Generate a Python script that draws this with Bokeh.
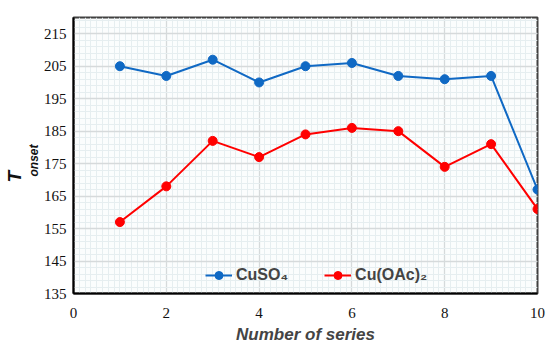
import numpy as np
from bokeh.plotting import figure
from bokeh.models import FixedTicker, Range1d, Title, Legend, LegendItem
from bokeh.embed import file_html
from bokeh.resources import INLINE

series = [1, 2, 3, 4, 5, 6, 7, 8, 9, 10]
cuso4 = [205, 202, 207, 200, 205, 206, 202, 201, 202, 167]
cuoac2 = [157, 168, 182, 177, 184, 186, 185, 174, 181, 161]
x_ticks = [0, 2, 4, 6, 8, 10]
y_ticks = [135, 145, 155, 165, 175, 185, 195, 205, 215]

p = figure(frame_width=464, frame_height=276, width=550, height=350,
           min_border_left=73, min_border_right=13, min_border_top=17, min_border_bottom=57,
           x_range=Range1d(0, 10), y_range=Range1d(135, 220),
           output_backend="svg", toolbar_location=None, background_fill_color="#fbfdfd")
p.outline_line_color = "#404040"
p.outline_line_width = 2

xt = FixedTicker(ticks=x_ticks, minor_ticks=list(np.arange(0, 10.01, 0.125)))
yt = FixedTicker(ticks=y_ticks, minor_ticks=list(np.arange(135, 220.01, 2)))
p.xaxis.ticker = xt
p.yaxis.ticker = yt
for ax in (p.xaxis[0], p.yaxis[0]):
    ax.axis_line_color = "black"
    ax.axis_line_width = 2
    ax.major_tick_line_color = None
    ax.minor_tick_line_color = None
    ax.major_tick_out = 0
    ax.minor_tick_out = 0
    ax.major_label_text_font = "serif"
    ax.major_label_text_font_size = "15px"
    ax.major_label_text_color = "#111111"
p.xaxis.major_label_standoff = 14
p.yaxis.major_label_standoff = 7
p.xaxis.axis_label = "Number of series"
p.xaxis.axis_label_text_font = "Liberation Sans"
p.xaxis.axis_label_text_font_style = "bold italic"
p.xaxis.axis_label_text_font_size = "17px"
p.xaxis.axis_label_standoff = 4

for g in (p.xgrid[0], p.ygrid[0]):
    g.grid_line_color = "#d6dadb"
    g.grid_line_width = 1.3
    g.minor_grid_line_color = "#e6eef0"
    g.minor_grid_line_width = 1

blue = "#1069c4"
red = "#ff0000"
l1 = p.line(series, cuso4, line_color=blue, line_width=2)
c1 = p.scatter(series, cuso4, size=9, fill_color=blue, line_color=blue)
l2 = p.line(series, cuoac2, line_color=red, line_width=2)
c2 = p.scatter(series, cuoac2, size=9, fill_color=red, line_color=red)

legend = Legend(items=[LegendItem(label="CuSO\u2084", renderers=[l1, c1]),
                       LegendItem(label="Cu(OAc)\u2082", renderers=[l2, c2])],
                orientation="horizontal", location=(132, 8),
                border_line_color=None, background_fill_alpha=0,
                label_text_font="Liberation Sans", label_text_font_style="bold",
                label_text_font_size="16px", glyph_width=27, spacing=36,
                label_standoff=4, padding=0, margin=0)
p.add_layout(legend, "center")

sub = Title(text="onset", align="left", offset=117, standoff=0,
            text_font="Liberation Sans", text_font_style="bold italic",
            text_font_size="12px", text_color="#111111")
big = Title(text="T", align="left", offset=111, standoff=0,
            text_font="Liberation Sans", text_font_style="bold italic",
            text_font_size="19px", text_color="#111111")
p.add_layout(sub, "left")
p.add_layout(big, "left")

open("out.html", "w").write(file_html(p, INLINE))
